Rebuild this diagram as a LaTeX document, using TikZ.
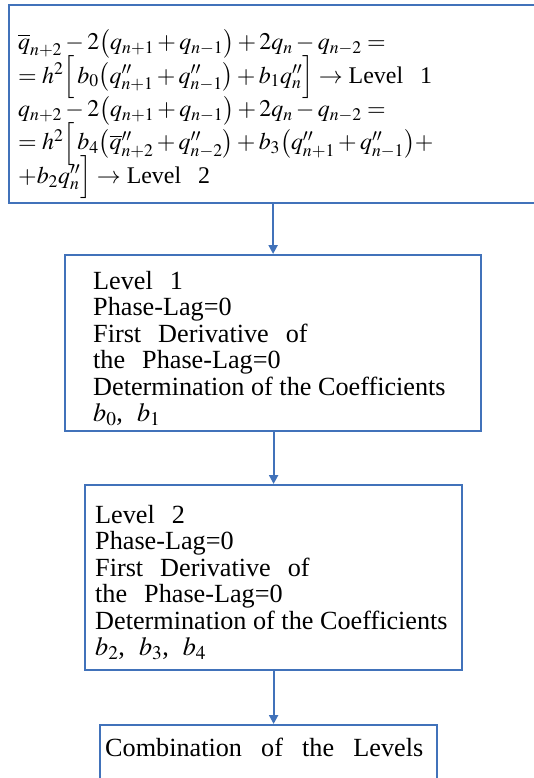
\documentclass[tikz,border=0pt]{standalone}
\usepackage{mathptmx}
\usepackage[no-math]{fontspec}
\setmainfont{Liberation Serif}
\usetikzlibrary{arrows.meta}
\definecolor{boxblue}{RGB}{65,114,186}
\newcommand{\tfont}{\fontsize{26.3}{26.6}\selectfont\lineskiplimit-100pt\relax}
\newcommand{\mfont}{\fontsize{24}{33.6}\selectfont\lineskiplimit-100pt\relax}
\tikzset{
  box/.style={draw=boxblue, line width=2.2bp, anchor=north west, inner sep=0pt},
  txt/.style={anchor=north west, inner sep=0pt, align=left, font=\tfont},
  mtxt/.style={anchor=north west, inner sep=0pt, align=left, font=\mfont},
  conn/.style={draw=boxblue, line width=2.2bp, -{Triangle[length=9bp,width=9bp]}}
}
\newcommand{\gap}{\hspace{17bp}}
\begin{document}
\begin{tikzpicture}[x=1bp,y=-1bp]
\useasboundingbox (0,0) rectangle (534,778);
\node[box, minimum width=540bp, minimum height=198bp] (b1) at (8,4) {};
\node[box, minimum width=416bp, minimum height=176bp] (b2) at (64,254) {};
\node[box, minimum width=377bp, minimum height=185bp] (b3) at (84,484) {};
\node[box, minimum width=337bp, minimum height=80bp] (b4) at (99,724) {};

\node[mtxt] (t1) at (18,29) {%
$\overline{q}_{n+2}-2\bigl(q_{n+1}+q_{n-1}\bigr)+2q_n-q_{n-2}=$\\
$=h^2\Bigl[\,b_0\bigl(q''_{n+1}+q''_{n-1}\bigr)+b_1q''_n\Bigr]\rightarrow$ Level\gap 1\\
$q_{n+2}-2\bigl(q_{n+1}+q_{n-1}\bigr)+2q_n-q_{n-2}=$\\
$=h^2\Bigl[\,b_4\bigl(\overline{q}''_{n+2}+q''_{n-2}\bigr)+b_3\bigl(q''_{n+1}+q''_{n-1}\bigr)+$\\
$+b_2q''_n\Bigr]\rightarrow$ Level\gap 2};

\node[txt] (t2) at (93,271) {%
Level\gap 1\\
Phase-Lag=0\\
First\gap Derivative\gap of\\
the\gap Phase-Lag=0\\
Determination of the Coefficients\\
$b_0$,\hspace{14bp}$b_1$};

\node[txt] (t3) at (95,505) {%
Level\gap 2\\
Phase-Lag=0\\
First\gap Derivative\gap of\\
the\gap Phase-Lag=0\\
Determination of the Coefficients\\
$b_2$,\hspace{14bp}$b_3$,\hspace{14bp}$b_4$};

\node[txt] (t4) at (105,738) {\makebox[318bp][s]{Combination\hfill of\hfill the\hfill Levels}};

\draw[conn] (b1.south -| b2.north) -- (b2.north);
\draw[conn] (b2.south -| b3.north) -- (b3.north);
\draw[conn] (b3.south) -- (b3.south |- b4.north);
\end{tikzpicture}
\end{document}
